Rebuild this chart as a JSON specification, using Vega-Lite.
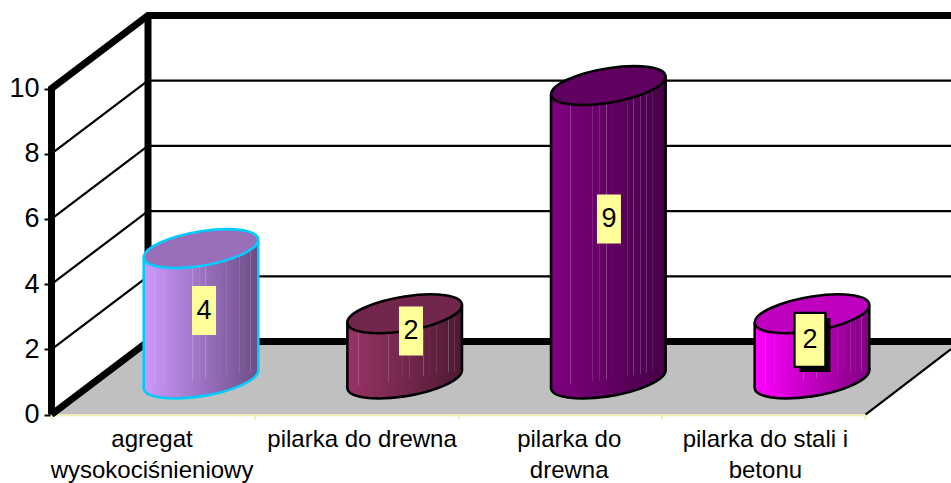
{
"$schema":"https://vega.github.io/schema/vega-lite/v6.json",
"width":951,"height":483,"padding":0,"autosize":{"type":"none"},"background":"white",
"config":{"view":{"stroke":null},"text":{"font":"Liberation Sans"}},
"datasets":{
"walce":[
{"nr":1,"nazwa":"agregat wysokociśnieniowy","wartosc":4,"etyk_x":1.015,"etyk_y":2.10},
{"nr":2,"nazwa":"pilarka do drewna","wartosc":2,"etyk_x":2.031,"etyk_y":1.47},
{"nr":3,"nazwa":"pilarka do drewna","wartosc":9,"etyk_x":3.003,"etyk_y":4.91},
{"nr":4,"nazwa":"pilarka do stali i betonu","wartosc":2,"etyk_x":3.99,"etyk_y":1.20}],
"boki":[
{"nr":1,"poz":0.7187,"gora":3.73,"dol":-0.27},{"nr":1,"poz":1.2813,"gora":4.27,"dol":0.27},
{"nr":2,"poz":1.7187,"gora":1.73,"dol":-0.27},{"nr":2,"poz":2.2813,"gora":2.27,"dol":0.27},
{"nr":3,"poz":2.7187,"gora":8.73,"dol":-0.27},{"nr":3,"poz":3.2813,"gora":9.27,"dol":0.27},
{"nr":4,"poz":3.7187,"gora":1.73,"dol":-0.27},{"nr":4,"poz":4.2813,"gora":2.27,"dol":0.27}],
"podloga":[{"u":0,"v":0,"v2":0},{"u":0.4742,"v":0,"v2":2.239},{"u":4,"v":0,"v2":2.239},{"u":4.4202,"v":2.009,"v2":2.239}],
"grube":[
{"s":"a","i":1,"u":0,"v":0},{"s":"a","i":2,"u":0,"v":10},{"s":"a","i":3,"u":0.4742,"v":12.239},{"s":"a","i":4,"u":4.4202,"v":12.239},
{"s":"b","i":1,"u":0.4742,"v":12.239},{"s":"b","i":2,"u":0.4742,"v":2.239},
{"s":"c","i":1,"u":0,"v":0},{"s":"c","i":2,"u":0.4742,"v":2.239},{"s":"c","i":3,"u":4.4202,"v":2.239}],
"cienkie":[
{"s":"g2","u":0,"v":2},{"s":"g2","u":0.4742,"v":4.239},{"s":"g2","u":4.4202,"v":4.239},
{"s":"g4","u":0,"v":4},{"s":"g4","u":0.4742,"v":6.239},{"s":"g4","u":4.4202,"v":6.239},
{"s":"g6","u":0,"v":6},{"s":"g6","u":0.4742,"v":8.239},{"s":"g6","u":4.4202,"v":8.239},
{"s":"g8","u":0,"v":8},{"s":"g8","u":0.4742,"v":10.239},{"s":"g8","u":4.4202,"v":10.239},
{"s":"p","u":4,"v":0},{"s":"p","u":4.4202,"v":2.009}],
"os":[
{"s":"o","i":1,"u":0,"v":-0.02},{"s":"o","i":2,"u":4,"v":-0.02},
{"s":"t0","i":1,"u":0,"v":-0.02},{"s":"t0","i":2,"u":0,"v":-0.15},
{"s":"t1","i":1,"u":1,"v":-0.02},{"s":"t1","i":2,"u":1,"v":-0.15},
{"s":"t2","i":1,"u":2,"v":-0.02},{"s":"t2","i":2,"u":2,"v":-0.15},
{"s":"t3","i":1,"u":3,"v":-0.02},{"s":"t3","i":2,"u":3,"v":-0.15},
{"s":"t4","i":1,"u":4,"v":-0.02},{"s":"t4","i":2,"u":4,"v":-0.15}],
"podpisy":[
{"tekst":"agregat\nwysokociśnieniowy","u":0.494,"v":-0.40},
{"tekst":"pilarka do drewna","u":1.526,"v":-0.40},
{"tekst":"pilarka do\ndrewna","u":2.544,"v":-0.40},
{"tekst":"pilarka do stali i\nbetonu","u":3.508,"v":-0.40}]
},
"resolve":{"scale":{"x":"independent","y":"independent","fill":"independent","stroke":"independent"}},
"layer":[
{"data":{"name":"podloga"},"mark":{"type":"area","fill":"#c0c0c0","opacity":1,"interpolate":"linear"},
 "encoding":{"x":{"field":"u","type":"quantitative","axis":null,"scale":{"domain":[-0.2531,4.4202],"range":[0,951],"nice":false,"zero":false}},
 "y":{"field":"v","type":"quantitative","title":null,"scale":{"domain":[-2.101,12.715],"range":[483,0],"nice":false,"zero":false},
  "axis":{"values":[0,2,4,6,8,10],"domain":false,"grid":false,"offset":-51,"tickSize":7,"tickWidth":2,"tickColor":"#000000","labelFontSize":27,"labelFont":"Liberation Sans","labelColor":"#000000","labelPadding":5,"title":null}},
 "y2":{"field":"v2"}}},
{"data":{"name":"cienkie"},"mark":{"type":"line","stroke":"#000000","strokeWidth":2.2,"strokeCap":"butt"},
 "encoding":{"detail":{"field":"s"},"order":{"field":"u","type":"quantitative"},"x":{"field":"u","type":"quantitative","axis":null,"scale":{"domain":[-0.2531,4.4202],"range":[0,951],"nice":false,"zero":false}},
 "y":{"field":"v","type":"quantitative","axis":null,"scale":{"domain":[-2.101,12.715],"range":[483,0],"nice":false,"zero":false}}}},
{"data":{"name":"os"},"mark":{"type":"line","stroke":"#eeeeb0","strokeWidth":2},
 "encoding":{"detail":{"field":"s"},"order":{"field":"i","type":"quantitative"},"x":{"field":"u","type":"quantitative","axis":null,"scale":{"domain":[-0.2531,4.4202],"range":[0,951],"nice":false,"zero":false}},
 "y":{"field":"v","type":"quantitative","axis":null,"scale":{"domain":[-2.101,12.715],"range":[483,0],"nice":false,"zero":false}}}},
{"data":{"name":"grube"},"mark":{"type":"line","stroke":"#000000","strokeWidth":7,"strokeJoin":"miter","strokeCap":"butt"},
 "encoding":{"detail":{"field":"s"},"order":{"field":"i","type":"quantitative"},"x":{"field":"u","type":"quantitative","axis":null,"scale":{"domain":[-0.2531,4.4202],"range":[0,951],"nice":false,"zero":false}},
 "y":{"field":"v","type":"quantitative","axis":null,"scale":{"domain":[-2.101,12.715],"range":[483,0],"nice":false,"zero":false}}}},

{"data":{"name":"walce"},"transform":[{"filter":"datum.nr==1"}],"mark":{"type":"point","filled":true,"opacity":1,"size":13133,"stroke":"#00ccff","strokeWidth":2.6,
  "shape":"M1,-0.153C1,0.0143,0.5523,0.2185,0,0.303C-0.5523,0.3875,-1,0.3203,-1,0.153C-1,-0.0143,-0.5523,-0.2185,0,-0.303C0.5523,-0.3875,1,-0.3203,1,-0.153Z",
  "fill":{"gradient":"linear","x1":0,"y1":0,"x2":1,"y2":0,"stops":[{"offset":0,"color":"#cc99ff"},{"offset":1,"color":"#6c4d86"}]}},
 "encoding":{"x":{"field":"nr","type":"quantitative","axis":null,"scale":{"domain":[1,4],"range":[201,812],"nice":false,"zero":false}},
 "y":{"datum":0,"type":"quantitative","axis":null,"scale":{"domain":[0,10],"range":[379,53],"nice":false,"zero":false}}}},
{"data":{"name":"walce"},"transform":[{"filter":"datum.nr==2"}],"mark":{"type":"point","filled":true,"opacity":1,"size":13133,"stroke":"#000000","strokeWidth":2.6,
  "shape":"M1,-0.153C1,0.0143,0.5523,0.2185,0,0.303C-0.5523,0.3875,-1,0.3203,-1,0.153C-1,-0.0143,-0.5523,-0.2185,0,-0.303C0.5523,-0.3875,1,-0.3203,1,-0.153Z",
  "fill":{"gradient":"linear","x1":0,"y1":0,"x2":1,"y2":0,"stops":[{"offset":0,"color":"#993366"},{"offset":1,"color":"#4d1a33"}]}},
 "encoding":{"x":{"field":"nr","type":"quantitative","axis":null,"scale":{"domain":[1,4],"range":[201,812],"nice":false,"zero":false}},
 "y":{"datum":0,"type":"quantitative","axis":null,"scale":{"domain":[0,10],"range":[379,53],"nice":false,"zero":false}}}},
{"data":{"name":"walce"},"transform":[{"filter":"datum.nr==3"}],"mark":{"type":"point","filled":true,"opacity":1,"size":13133,"stroke":"#000000","strokeWidth":2.6,
  "shape":"M1,-0.153C1,0.0143,0.5523,0.2185,0,0.303C-0.5523,0.3875,-1,0.3203,-1,0.153C-1,-0.0143,-0.5523,-0.2185,0,-0.303C0.5523,-0.3875,1,-0.3203,1,-0.153Z",
  "fill":{"gradient":"linear","x1":0,"y1":0,"x2":1,"y2":0,"stops":[{"offset":0,"color":"#800080"},{"offset":1,"color":"#450045"}]}},
 "encoding":{"x":{"field":"nr","type":"quantitative","axis":null,"scale":{"domain":[1,4],"range":[201,812],"nice":false,"zero":false}},
 "y":{"datum":0,"type":"quantitative","axis":null,"scale":{"domain":[0,10],"range":[379,53],"nice":false,"zero":false}}}},
{"data":{"name":"walce"},"transform":[{"filter":"datum.nr==4"}],"mark":{"type":"point","filled":true,"opacity":1,"size":13133,"stroke":"#000000","strokeWidth":2.6,
  "shape":"M1,-0.153C1,0.0143,0.5523,0.2185,0,0.303C-0.5523,0.3875,-1,0.3203,-1,0.153C-1,-0.0143,-0.5523,-0.2185,0,-0.303C0.5523,-0.3875,1,-0.3203,1,-0.153Z",
  "fill":{"gradient":"linear","x1":0,"y1":0,"x2":1,"y2":0,"stops":[{"offset":0,"color":"#ff00ff"},{"offset":1,"color":"#800080"}]}},
 "encoding":{"x":{"field":"nr","type":"quantitative","axis":null,"scale":{"domain":[1,4],"range":[201,812],"nice":false,"zero":false}},
 "y":{"datum":0,"type":"quantitative","axis":null,"scale":{"domain":[0,10],"range":[379,53],"nice":false,"zero":false}}}},

{"data":{"name":"boki"},"transform":[{"filter":"datum.nr==1"}],"mark":{"type":"area","opacity":1,"interpolate":"linear","fill":{"gradient":"linear","x1":0,"y1":0,"x2":1,"y2":0,"stops":[{"offset":0,"color":"#cc99ff"},{"offset":1,"color":"#6c4d86"}]}},
 "encoding":{"x":{"field":"poz","type":"quantitative","axis":null,"scale":{"domain":[1,4],"range":[201,812],"nice":false,"zero":false}},
 "y":{"field":"gora","type":"quantitative","axis":null,"scale":{"domain":[0,10],"range":[379,53],"nice":false,"zero":false}},"y2":{"field":"dol"}}},
{"data":{"name":"boki"},"transform":[{"filter":"datum.nr==2"}],"mark":{"type":"area","opacity":1,"interpolate":"linear","fill":{"gradient":"linear","x1":0,"y1":0,"x2":1,"y2":0,"stops":[{"offset":0,"color":"#993366"},{"offset":1,"color":"#4d1a33"}]}},
 "encoding":{"x":{"field":"poz","type":"quantitative","axis":null,"scale":{"domain":[1,4],"range":[201,812],"nice":false,"zero":false}},
 "y":{"field":"gora","type":"quantitative","axis":null,"scale":{"domain":[0,10],"range":[379,53],"nice":false,"zero":false}},"y2":{"field":"dol"}}},
{"data":{"name":"boki"},"transform":[{"filter":"datum.nr==3"}],"mark":{"type":"area","opacity":1,"interpolate":"linear","fill":{"gradient":"linear","x1":0,"y1":0,"x2":1,"y2":0,"stops":[{"offset":0,"color":"#800080"},{"offset":1,"color":"#450045"}]}},
 "encoding":{"x":{"field":"poz","type":"quantitative","axis":null,"scale":{"domain":[1,4],"range":[201,812],"nice":false,"zero":false}},
 "y":{"field":"gora","type":"quantitative","axis":null,"scale":{"domain":[0,10],"range":[379,53],"nice":false,"zero":false}},"y2":{"field":"dol"}}},
{"data":{"name":"boki"},"transform":[{"filter":"datum.nr==4"}],"mark":{"type":"area","opacity":1,"interpolate":"linear","fill":{"gradient":"linear","x1":0,"y1":0,"x2":1,"y2":0,"stops":[{"offset":0,"color":"#ff00ff"},{"offset":1,"color":"#800080"}]}},
 "encoding":{"x":{"field":"poz","type":"quantitative","axis":null,"scale":{"domain":[1,4],"range":[201,812],"nice":false,"zero":false}},
 "y":{"field":"gora","type":"quantitative","axis":null,"scale":{"domain":[0,10],"range":[379,53],"nice":false,"zero":false}},"y2":{"field":"dol"}}},

{"data":{"name":"boki"},"mark":{"type":"area","opacity":0.24,"interpolate":"linear","fill":{"gradient":"linear","x1":0,"y1":0,"x2":1,"y2":0,"stops":[
{"offset":0,"color":"rgba(255,255,255,0)"},{"offset":0.092,"color":"rgba(255,255,255,0)"},{"offset":0.096,"color":"rgba(255,255,255,1)"},{"offset":0.1,"color":"rgba(255,255,255,0)"},{"offset":0.166,"color":"rgba(255,255,255,0)"},{"offset":0.17,"color":"rgba(255,255,255,1)"},{"offset":0.174,"color":"rgba(255,255,255,0)"},{"offset":0.356,"color":"rgba(255,255,255,0)"},{"offset":0.36,"color":"rgba(255,255,255,1)"},{"offset":0.364,"color":"rgba(255,255,255,0)"},{"offset":0.421,"color":"rgba(255,255,255,0)"},{"offset":0.425,"color":"rgba(255,255,255,1)"},{"offset":0.429,"color":"rgba(255,255,255,0)"},{"offset":0.48,"color":"rgba(255,255,255,0)"},{"offset":0.484,"color":"rgba(255,255,255,1)"},{"offset":0.488,"color":"rgba(255,255,255,0)"},{"offset":0.536,"color":"rgba(255,255,255,0)"},{"offset":0.54,"color":"rgba(255,255,255,1)"},{"offset":0.544,"color":"rgba(255,255,255,0)"},{"offset":0.661,"color":"rgba(255,255,255,0)"},{"offset":0.665,"color":"rgba(255,255,255,1)"},{"offset":0.669,"color":"rgba(255,255,255,0)"},{"offset":0.716,"color":"rgba(255,255,255,0)"},{"offset":0.72,"color":"rgba(255,255,255,1)"},{"offset":0.724,"color":"rgba(255,255,255,0)"},{"offset":0.776,"color":"rgba(255,255,255,0)"},{"offset":0.78,"color":"rgba(255,255,255,1)"},{"offset":0.784,"color":"rgba(255,255,255,0)"},{"offset":0.83,"color":"rgba(255,255,255,0)"},{"offset":0.834,"color":"rgba(255,255,255,1)"},{"offset":0.838,"color":"rgba(255,255,255,0)"},{"offset":0.879,"color":"rgba(255,255,255,0)"},{"offset":0.883,"color":"rgba(255,255,255,1)"},{"offset":0.887,"color":"rgba(255,255,255,0)"},{"offset":0.929,"color":"rgba(255,255,255,0)"},{"offset":0.933,"color":"rgba(255,255,255,1)"},{"offset":0.937,"color":"rgba(255,255,255,0)"},{"offset":1,"color":"rgba(255,255,255,0)"}]}},
 "encoding":{"detail":{"field":"nr"},"x":{"field":"poz","type":"quantitative","axis":null,"scale":{"domain":[1,4],"range":[201,812],"nice":false,"zero":false}},
 "y":{"field":"gora","type":"quantitative","axis":null,"scale":{"domain":[0,10],"range":[379,53],"nice":false,"zero":false}},"y2":{"field":"dol"}}},

{"data":{"name":"boki"},"mark":{"type":"rule","strokeWidth":2.6},
 "encoding":{"x":{"field":"poz","type":"quantitative","axis":null,"scale":{"domain":[1,4],"range":[201,812],"nice":false,"zero":false}},
 "y":{"field":"gora","type":"quantitative","axis":null,"scale":{"domain":[0,10],"range":[379,53],"nice":false,"zero":false}},
 "y2":{"field":"dol"},
 "stroke":{"field":"nr","type":"nominal","legend":null,"scale":{"domain":[1,2,3,4],"range":["#00ccff","#000000","#000000","#000000"]}}}},
{"data":{"name":"walce"},"mark":{"type":"point","filled":true,"opacity":1,"size":13133,"strokeWidth":2.6,
  "shape":"M1,-0.153C1,0.0143,0.5523,0.2185,0,0.303C-0.5523,0.3875,-1,0.3203,-1,0.153C-1,-0.0143,-0.5523,-0.2185,0,-0.303C0.5523,-0.3875,1,-0.3203,1,-0.153Z"},
 "encoding":{"x":{"field":"nr","type":"quantitative","axis":null,"scale":{"domain":[1,4],"range":[201,812],"nice":false,"zero":false}},
 "y":{"field":"wartosc","type":"quantitative","axis":null,"scale":{"domain":[0,10],"range":[379,53],"nice":false,"zero":false}},
 "fill":{"field":"nr","type":"nominal","legend":null,"scale":{"domain":[1,2,3,4],"range":["#9a6fb9","#73264d","#600060","#bf00bf"]}},
 "stroke":{"field":"nr","type":"nominal","legend":null,"scale":{"domain":[1,2,3,4],"range":["#00ccff","#000000","#000000","#000000"]}}}},
{"data":{"name":"walce"},"transform":[{"filter":"datum.nr==4"}],"mark":{"type":"point","filled":true,"opacity":1,"size":2916,"fill":"#000000","strokeWidth":0,"xOffset":5,"yOffset":5,"shape":"M-0.574,-1H0.574V1H-0.574Z"},
 "encoding":{"x":{"field":"etyk_x","type":"quantitative","axis":null,"scale":{"domain":[1,4],"range":[201,812],"nice":false,"zero":false}},
 "y":{"field":"etyk_y","type":"quantitative","axis":null,"scale":{"domain":[0,10],"range":[379,53],"nice":false,"zero":false}}}},
{"data":{"name":"walce"},"transform":[{"filter":"datum.nr==4"}],"mark":{"type":"point","filled":true,"opacity":1,"size":2916,"fill":"#ffff99","stroke":"#000000","strokeWidth":2.4,"shape":"M-0.574,-1H0.574V1H-0.574Z"},
 "encoding":{"x":{"field":"etyk_x","type":"quantitative","axis":null,"scale":{"domain":[1,4],"range":[201,812],"nice":false,"zero":false}},
 "y":{"field":"etyk_y","type":"quantitative","axis":null,"scale":{"domain":[0,10],"range":[379,53],"nice":false,"zero":false}}}},
{"data":{"name":"walce"},"transform":[{"filter":"datum.nr<4"}],"mark":{"type":"point","filled":true,"opacity":1,"size":2401,"fill":"#ffff99","strokeWidth":0,"shape":"M-0.49,-1H0.49V1H-0.49Z"},
 "encoding":{"x":{"field":"etyk_x","type":"quantitative","axis":null,"scale":{"domain":[1,4],"range":[201,812],"nice":false,"zero":false}},
 "y":{"field":"etyk_y","type":"quantitative","axis":null,"scale":{"domain":[0,10],"range":[379,53],"nice":false,"zero":false}}}},
{"data":{"name":"walce"},"mark":{"type":"text","font":"Liberation Sans","fontSize":27,"color":"#000000","align":"center","baseline":"middle"},
 "encoding":{"x":{"field":"etyk_x","type":"quantitative","axis":null,"scale":{"domain":[1,4],"range":[201,812],"nice":false,"zero":false}},
 "y":{"field":"etyk_y","type":"quantitative","axis":null,"scale":{"domain":[0,10],"range":[379,53],"nice":false,"zero":false}},
 "text":{"field":"wartosc","type":"quantitative"}}},
{"data":{"name":"podpisy"},"mark":{"type":"text","font":"Liberation Sans","fontSize":24,"color":"#000000","align":"center","baseline":"top","lineBreak":"\n","lineHeight":31},
 "encoding":{"x":{"field":"u","type":"quantitative","axis":null,"scale":{"domain":[-0.2531,4.4202],"range":[0,951],"nice":false,"zero":false}},
 "y":{"field":"v","type":"quantitative","axis":null,"scale":{"domain":[-2.101,12.715],"range":[483,0],"nice":false,"zero":false}},
 "text":{"field":"tekst"}}}
]}
